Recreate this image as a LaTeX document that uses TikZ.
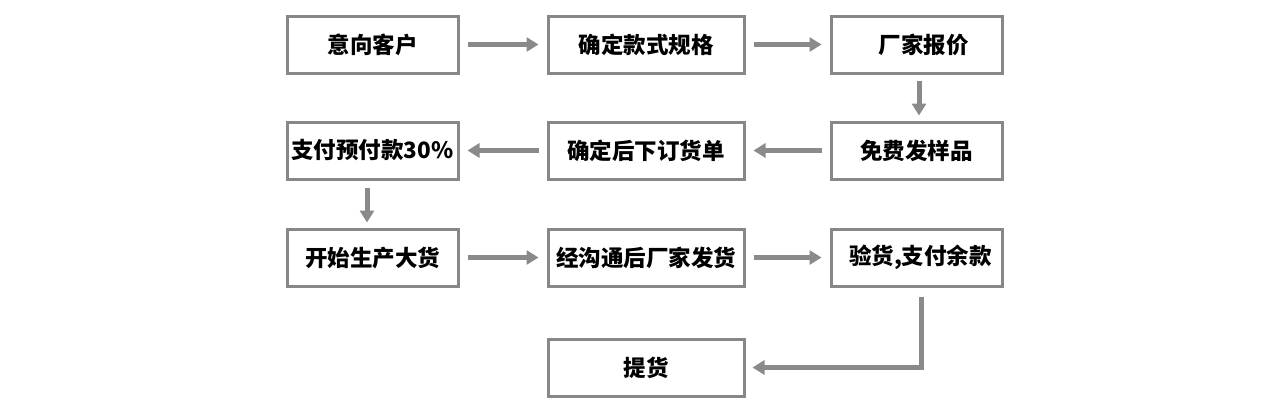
\documentclass[tikz,border=0pt]{standalone}
\usepackage{fontspec}
\setmainfont{Noto Sans CJK SC}
\usetikzlibrary{arrows.meta}
\definecolor{boxgray}{HTML}{878787}
\definecolor{arrgray}{HTML}{8A8A8A}
\begin{document}
\begin{tikzpicture}[x=1pt,y=-1pt,
  stepbox/.style={draw=boxgray, line width=3pt, fill=white, minimum height=57pt, inner sep=0pt,
    font=\fontsize{22.5}{26}\selectfont\bfseries, text=black},
  wbox/.style={stepbox, minimum width=171pt},
  mbox/.style={stepbox, minimum width=196pt},
  flow/.style={draw=arrgray, line width=5pt, -{Triangle[length=12pt,width=14pt]}}]
\useasboundingbox (0,0) rectangle (1275,408);
\node[wbox] (a1) at (372.5,44.5) {意向客户};
\node[mbox] (a2) at (646,44.5) {确定款式规格};
\node[wbox] (a3) at (916.5,44.5) {\hspace{14pt}厂家报价};
\node[wbox] (b1) at (372.5,150.5) {支付预付款30\%};
\node[mbox] (b2) at (646,150.5) {确定后下订货单};
\node[wbox] (b3) at (916.5,150.5) {免费发样品};
\node[wbox] (c1) at (372.5,257.5) {开始生产大货};
\node[mbox] (c2) at (646,257.5) {经沟通后厂家发货};
\node[wbox] (c3) at (916.5,257.5) {\hspace{8pt}验货,支付余款};
\node[mbox] (d2) at (646,367.5) {提货};
\draw[flow] ([xshift=8pt]a1.east) -- ([xshift=-8pt]a2.west);
\draw[flow] ([xshift=8pt]a2.east) -- ([xshift=-8pt]a3.west);
\draw[flow] ([xshift=2.5pt,yshift=-6pt]a3.south) -- ([xshift=2.5pt,yshift=5pt]b3.north);
\draw[flow] ([xshift=-8pt]b3.west) -- ([xshift=8pt]b2.east);
\draw[flow] ([xshift=-8pt]b2.west) -- ([xshift=8pt]b1.east);
\draw[flow] ([xshift=-5.5pt,yshift=-7pt]b1.south) -- ([xshift=-5.5pt,yshift=5pt]c1.north);
\draw[flow] ([xshift=8pt]c1.east) -- ([xshift=-8pt]c2.west);
\draw[flow] ([xshift=8pt]c2.east) -- ([xshift=-8pt]c3.west);
\draw[flow] ([xshift=4.5pt,yshift=-9pt]c3.south) |- ([xshift=7pt]d2.east);
\end{tikzpicture}
\end{document}
